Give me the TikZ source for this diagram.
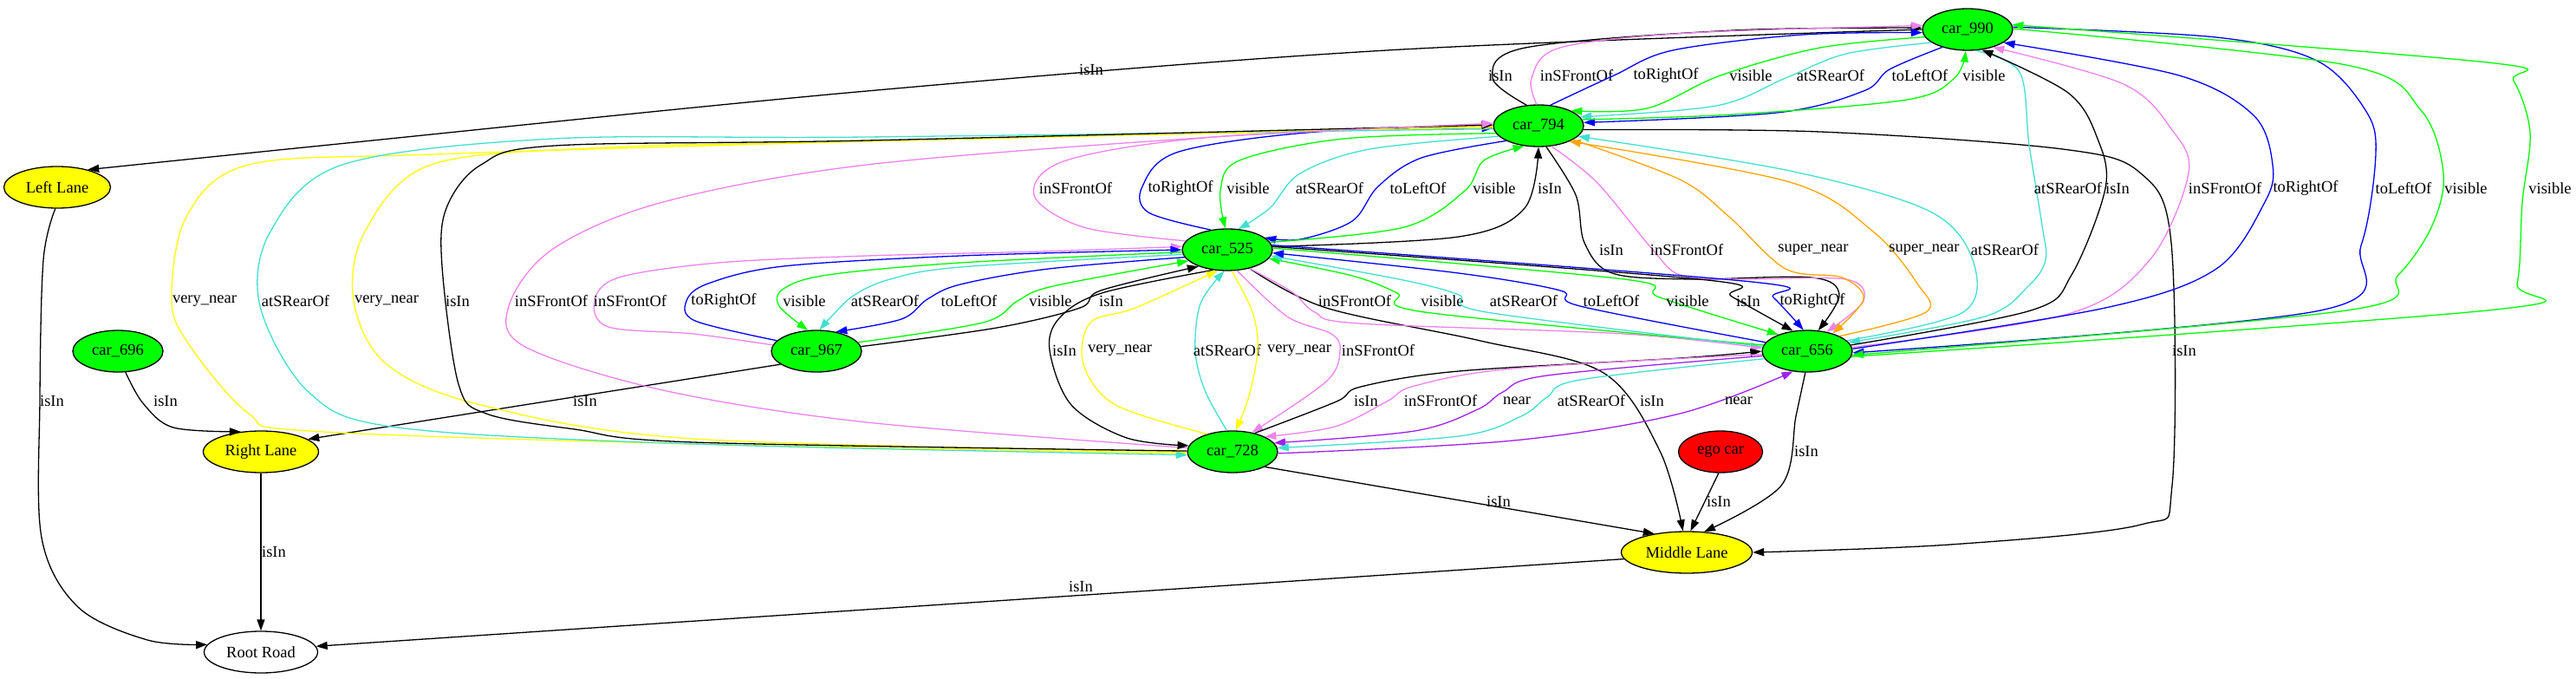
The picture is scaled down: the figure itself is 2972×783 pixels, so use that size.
\documentclass[tikz,border=0pt]{standalone}
\usepackage{fontspec}
\setmainfont{Liberation Serif}
\usetikzlibrary{shapes.geometric,arrows.meta}
\definecolor{gvgreen}{HTML}{00FF00}
\definecolor{gvyellow}{HTML}{FFFF00}
\definecolor{gvred}{HTML}{FF0000}
\definecolor{gvblue}{HTML}{0000FF}
\definecolor{gvcyan}{HTML}{40E0D0}
\definecolor{gvviolet}{HTML}{EE82EE}
\definecolor{gvorange}{HTML}{FFA500}
\definecolor{gvpurple}{HTML}{A020F0}
\begin{document}
\begin{tikzpicture}[x=1pt,y=-1pt,
  gnode/.style={ellipse,draw,line width=1.3pt,inner sep=0pt,minimum height=48pt,font=\fontsize{18.5}{22}\selectfont},
  car/.style={gnode,fill=gvgreen,minimum width=104pt},
  lane/.style={gnode,fill=gvyellow},
  lbl/.style={inner sep=0pt,font=\fontsize{18.5}{22}\selectfont},
  ed/.style={line width=1.3pt,-{Triangle[length=13pt,width=9pt]}},
  eisin/.style={ed,black},
  efront/.style={ed,gvviolet},
  eblue/.style={ed,gvblue},
  evis/.style={ed,gvgreen},
  erear/.style={ed,gvcyan},
  evnear/.style={ed,gvyellow},
  esnear/.style={ed,gvorange},
  enear/.style={ed,gvpurple},
  sm/.style={smooth,tension=0.55}
]
\useasboundingbox (0,0) rectangle (2972,783);
% nodes
\node[car] (c990) at (2270,34) {car\_990};
\node[car] (c794) at (1775,145) {car\_794};
\node[car] (c525) at (1416,288) {car\_525};
\node[car] (c967) at (942,405) {car\_967};
\node[car] (c696) at (136,405) {car\_696};
\node[car] (c656) at (2085,405) {car\_656};
\node[car] (c728) at (1422,521) {car\_728};
\node[gnode,fill=gvred,minimum width=97pt] (ego) at (1985,521) {ego car};
\node[lane,minimum width=123pt] (LL) at (66,216) {Left Lane};
\node[lane,minimum width=133pt] (RL) at (301,521) {Right Lane};
\node[lane,minimum width=151pt] (ML) at (1946,637) {Middle Lane};
\node[gnode,fill=white,minimum width=131pt] (RR) at (301,752) {Root Road};

% lanes and roads
\draw[eisin] plot[sm] coordinates {(c990.180) (1600,58) (1000,105) (400,165) (LL.30)};
\node[lbl] (l1) at (1259,80) {isIn};
\draw[eisin] plot[sm] coordinates {(LL.265) (50,300) (46,460) (48,620) (90,700) (170,738) (RR.172)};
\node[lbl] (l2) at (60,462) {isIn};
\draw[eisin] plot[sm] coordinates {(c696.290) (165,465) (200,493) (RL.135)};
\node[lbl] (l3) at (191,462) {isIn};
\draw[eisin] (RL.south) -- (RR.north);
\node[lbl] (l4) at (316,636) {isIn};
\draw[eisin] (c967.200) -- (RL.15);
\node[lbl] (l5) at (675,462) {isIn};
\draw[eisin] (ML.186) -- (RR.6);
\node[lbl] (l6) at (1247,676) {isIn};
\draw[eisin] (c728.335) -- (ML.150);
\node[lbl] (l7) at (1729,578) {isIn};
\draw[eisin] (ego.265) -- (ML.80);
\node[lbl] (l8) at (1983,578) {isIn};
\draw[eisin] plot[sm] coordinates {(c656.265) (2072,480) (2055,560) (ML.50)};
\node[lbl] (l9) at (2084,520) {isIn};
\draw[eisin] plot[sm] coordinates {(c525.320) (1530,355) (1708,393) (1850,430) (1915,520) (ML.100)};
\node[lbl] (l10) at (1906,462) {isIn};
\draw[eisin] plot[sm] coordinates {(c794.355) (2100,152) (2380,172) (2470,200) (2505,280) (2506,560) (2470,605) (2250,628) (ML.0)};
\node[lbl] (l11) at (2520,404) {isIn};

% 794 <-> 990
\draw[eisin] plot[sm] coordinates {(c794.120) (1722,90) (1760,55) (2000,35) (c990.178)};
\node[lbl] (l12) at (1731,87) {isIn};
\draw[efront] plot[sm] coordinates {(c794.95) (1767,90) (1800,55) (1950,38) (c990.175)};
\node[lbl] (l13) at (1819,87) {inSFrontOf};
\draw[eblue] plot[sm] coordinates {(c794.60) (1862,87) (1930,58) (2080,40) (c990.184)};
\node[lbl] (l14) at (1922,87) {toRightOf};
\draw[evis] plot[sm] coordinates {(c990.190) (2100,55) (1985,87) (1900,125) (c794.25)};
\node[lbl] (l15) at (2020,87) {visible};
\draw[erear] plot[sm] coordinates {(c990.200) (2130,62) (2060,90) (1980,122) (c794.12)};
\node[lbl] (l16) at (2112,87) {atSRearOf};
\draw[eblue] plot[sm] coordinates {(c990.215) (2180,80) (2150,105) (2050,130) (c794.4)};
\node[lbl] (l17) at (2215,87) {toLeftOf};
\draw[evis] plot[sm] coordinates {(c794.8) (2000,132) (2200,115) (2255,90) (c990.265)};
\node[lbl] (l18) at (2289,87) {visible};

% 525 <-> 794
\draw[efront] plot[sm] coordinates {(c525.168) (1250,262) (1193,225) (1230,185) (1400,158) (c794.178)};
\node[lbl] (l19) at (1241,217) {inSFrontOf};
\draw[eblue] plot[sm] coordinates {(c525.130) (1325,245) (1318,215) (1360,175) (1520,152) (c794.183)};
\node[lbl] (l20) at (1362,217) {toRightOf};
\draw[evis] plot[sm] coordinates {(c794.190) (1550,160) (1430,185) (1408,220) (c525.95)};
\node[lbl] (l21) at (1440,217) {visible};
\draw[erear] plot[sm] coordinates {(c794.195) (1580,172) (1500,200) (1465,240) (c525.62)};
\node[lbl] (l22) at (1534,217) {atSRearOf};
\draw[eblue] plot[sm] coordinates {(c794.205) (1640,182) (1590,215) (1560,255) (1500,276) (c525.18)};
\node[lbl] (l23) at (1636,217) {toLeftOf};
\draw[evis] plot[sm] coordinates {(c525.10) (1620,262) (1690,220) (1712,185) (c794.235)};
\node[lbl] (l24) at (1724,217) {visible};
\draw[eisin] plot[sm] coordinates {(c525.4) (1683,273) (1759,240) (c794.270)};
\node[lbl] (l25) at (1788,217) {isIn};

% 794 <-> 656
\draw[eisin] plot[sm] coordinates {(c794.290) (1818,225) (1828,280) (1860,315) (1950,322) (2090,320) (2122,340) (c656.62)};
\node[lbl] (l26) at (1859,288) {isIn};
\draw[efront] plot[sm] coordinates {(c794.302) (1842,210) (1906,287) (1938,317) (2001,322) (2129,322) (2150,347) (c656.45)};
\node[lbl] (l27) at (1946,288) {inSFrontOf};
\draw[esnear] plot[sm] coordinates {(c794.338) (1938,207) (1995,250) (2060,310) (2125,320) (2150,345) (c656.35)};
\node[lbl] (l28) at (2092,288) {super\_near};
\draw[esnear] plot[sm] coordinates {(c656.25) (2222,360) (2212,327) (2161,267) (2065,210) (c794.333)};
\node[lbl] (l29) at (2220,288) {super\_near};
\draw[erear] plot[sm] coordinates {(c656.15) (2265,360) (2276,300) (2225,243) (2065,197) (c794.345)};
\node[lbl] (l30) at (2313,288) {atSRearOf};

% 656 <-> 990
\draw[erear] plot[sm] coordinates {(c990.290) (2330,83) (2341,167) (2356,260) (2360,300) (2340,330) (2290,365) (c656.12)};
\node[lbl] (l31) at (2386,217) {atSRearOf};
\draw[eisin] plot[sm] coordinates {(c656.8) (2343,358) (2390,317) (2429,217) (2420,160) (2386,107) (c990.305)};
\node[lbl] (l32) at (2443,217) {isIn};
\draw[efront] plot[sm] coordinates {(c656.5) (2386,362) (2480,300) (2525,200) (2506,150) (2450,97) (c990.325)};
\node[lbl] (l33) at (2567,217) {inSFrontOf};
\draw[eblue] plot[sm] coordinates {(c656.3) (2429,355) (2557,310) (2613,233) (2622,190) (2600,133) (2514,87) (c990.340)};
\node[lbl] (l34) at (2660,217) {toRightOf};
\draw[eblue] plot[sm] coordinates {(c990.3) (2557,43) (2673,70) (2729,127) (2741,177) (2724,283) (2677,358) (c656.358)};
\node[lbl] (l35) at (2773,217) {toLeftOf};
\draw[evis] plot[sm] coordinates {(c990.1) (2707,75) (2793,127) (2819,200) (2806,260) (2767,317) (2707,358) (c656.355)};
\node[lbl] (l36) at (2845,217) {visible};
\draw[evis] plot[sm] coordinates {(c656.353) (2879,357) (2904,327) (2910,233) (2919,153) (2900,93) (2870,72) (c990.6)};
\node[lbl] (l37) at (2942,217) {visible};

% 794 <-> 728 (long, around the left)
\draw[evnear] plot[sm] coordinates {(c794.182) (1000,163) (500,178) (287,190) (215,250) (198,347) (220,400) (287,477) (357,497) (800,512) (c728.182)};
\node[lbl] (l38) at (236,347) {very\_near};
\draw[erear] plot[sm] coordinates {(c794.184) (1000,158) (638,160) (395,190) (312,267) (300,353) (357,453) (459,493) (800,512) (c728.184)};
\node[lbl] (l39) at (341,347) {atSRearOf};
\draw[evnear] plot[sm] coordinates {(c728.180) (800,506) (555,467) (446,420) (408,347) (421,267) (497,190) (700,170) (1000,163) (c794.180)};
\node[lbl] (l40) at (446,347) {very\_near};
\draw[eisin] plot[sm] coordinates {(c728.179) (800,510) (663,495) (561,477) (529,443) (510,307) (515,240) (555,190) (640,168) (1000,162) (c794.179)};
\node[lbl] (l41) at (528,347) {isIn};
\draw[efront] plot[sm] coordinates {(c728.175) (1000,487) (765,450) (606,400) (587,353) (638,287) (765,233) (1000,190) (1400,158) (c794.177)};
\node[lbl] (l42) at (636,347) {inSFrontOf};

% 525 <-> 967
\draw[efront] plot[sm] coordinates {(c967.172) (800,385) (702,377) (686,347) (714,320) (829,303) (1000,295) (1200,290) (c525.176)};
\node[lbl] (l43) at (727,347) {inSFrontOf};
\draw[eblue] plot[sm] coordinates {(c967.165) (802,370) (792,347) (817,327) (904,307) (1108,295) (c525.180)};
\node[lbl] (l44) at (835,347) {toRightOf};
\draw[evis] plot[sm] coordinates {(c525.183) (1108,303) (955,317) (904,333) (899,353) (c967.112)};
\node[lbl] (l45) at (928,347) {visible};
\draw[erear] plot[sm] coordinates {(c525.186) (1108,308) (1027,322) (986,340) (962,362) (c967.82)};
\node[lbl] (l46) at (1021,347) {atSRearOf};
\draw[eblue] plot[sm] coordinates {(c525.190) (1210,310) (1108,328) (1070,345) (1040,368) (c967.45)};
\node[lbl] (l47) at (1118,347) {toLeftOf};
\draw[evis] plot[sm] coordinates {(c967.12) (1134,372) (1174,347) (1215,330) (c525.196)};
\node[lbl] (l48) at (1212,347) {visible};
\draw[eisin] plot[sm] coordinates {(c967.6) (1150,378) (1246,355) (1270,335) (c525.210)};
\node[lbl] (l49) at (1282,347) {isIn};

% 525 <-> 728
\draw[eisin] plot[sm] coordinates {(c525.235) (1271,338) (1222,367) (1211,404) (1236,467) (1300,505) (c728.172)};
\node[lbl] (l50) at (1228,404) {isIn};
\draw[evnear] plot[sm] coordinates {(c728.145) (1287,467) (1250,420) (1258,372) (1310,355) (c525.245)};
\node[lbl] (l51) at (1292,404) {very\_near};
\draw[erear] plot[sm] coordinates {(c728.105) (1390,450) (1379,404) (1385,350) (c525.262)};
\node[lbl] (l52) at (1416,404) {atSRearOf};
\draw[evnear] plot[sm] coordinates {(c525.282) (1445,360) (1451,404) (1440,460) (c728.82)};
\node[lbl] (l53) at (1499,404) {very\_near};
\draw[efront] plot[sm] coordinates {(c525.295) (1485,365) (1536,385) (1546,405) (1530,440) (c728.45)};
\node[lbl] (l54) at (1590,404) {inSFrontOf};

% 525 <-> 656
\draw[efront] plot[sm] coordinates {(c525.320) (1491,337) (1517,360) (1568,373) (1874,385) (c656.176)};
\node[lbl] (l55) at (1563,347) {inSFrontOf};
\draw[evis] plot[sm] coordinates {(c656.172) (1644,360) (1612,338) (1560,318) (c525.348)};
\node[lbl] (l56) at (1664,347) {visible};
\draw[erear] plot[sm] coordinates {(c656.174) (1715,360) (1683,340) (1619,323) (c525.352)};
\node[lbl] (l57) at (1758,347) {atSRearOf};
\draw[eblue] plot[sm] coordinates {(c656.168) (1823,353) (1800,335) (1683,315) (c525.356)};
\node[lbl] (l58) at (1859,347) {toLeftOf};
\draw[evis] plot[sm] coordinates {(c525.2) (1874,322) (1915,343) (c656.150)};
\node[lbl] (l59) at (1947,347) {visible};
\draw[eisin] plot[sm] coordinates {(c525.4) (1970,323) (1998,342) (c656.125)};
\node[lbl] (l60) at (2017,347) {isIn};
\draw[eblue] plot[sm] coordinates {(c525.6) (2021,325) (2046,343) (c656.100)};
\node[lbl] (l61) at (2091,347) {toRightOf};

% 656 <-> 728
\draw[eisin] plot[sm] coordinates {(c728.40) (1542,463) (1570,446) (1683,428) (1938,413) (c656.180)};
\node[lbl] (l62) at (1576,462) {isIn};
\draw[efront] plot[sm] coordinates {(c656.184) (1746,425) (1632,445) (1600,463) (1540,492) (c728.25)};
\node[lbl] (l63) at (1662,462) {inSFrontOf};
\draw[enear] plot[sm] coordinates {(c656.186) (1785,433) (1734,452) (1705,472) (1632,497) (c728.12)};
\node[lbl] (l64) at (1750,462) {near};
\draw[erear] plot[sm] coordinates {(c656.190) (1823,438) (1785,458) (1755,480) (1683,503) (c728.5)};
\node[lbl] (l65) at (1836,462) {atSRearOf};
\draw[enear] plot[sm] coordinates {(c728.358) (1746,508) (1938,477) (c656.235)};
\node[lbl] (l66) at (2006,462) {near};
\end{tikzpicture}
\end{document}
